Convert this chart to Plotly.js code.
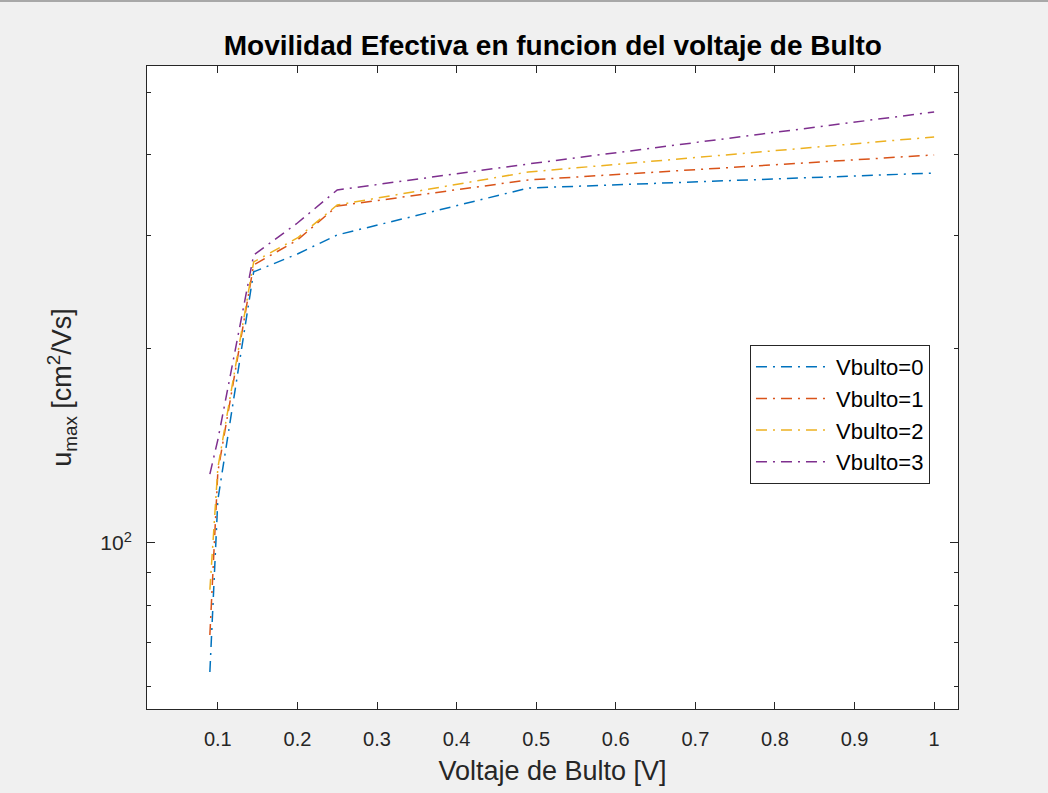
<!DOCTYPE html>
<html>
<head>
<meta charset="utf-8">
<script src="https://cdn.plot.ly/plotly-3.0.1.min.js"></script>
<style>
html,body{margin:0;padding:0;background:#f0f0f0;}
#chart{width:1048px;height:793px;}
</style>
</head>
<body>
<div id="chart"></div>
<script>
// Data
const vds = [0.09, 0.1, 0.145, 0.2, 0.25, 0.49, 1.0];
const seriesNames = ["Vbulto=0", "Vbulto=1", "Vbulto=2", "Vbulto=3"];
const umax0 = [63.1, 116.6, 263.2, 280.6, 300.3, 355.0, 374.6];
const umax1 = [72.0, 128.9, 269.8, 294.9, 333.0, 365.4, 399.6];
const umax2 = [84.6, 130.7, 272.7, 297.1, 334.2, 376.0, 426.1];
const umax3 = [127.9, 144.5, 279.6, 313.4, 352.6, 386.9, 465.9];
const seriesValues = [umax0, umax1, umax2, umax3];
const colors = ["#0072BD", "#D95319", "#EDB120", "#7E2F8E"];
const xTicks = [0.1, 0.2, 0.3, 0.4, 0.5, 0.6, 0.7, 0.8, 0.9, 1];
const xTickText = ["0.1", "0.2", "0.3", "0.4", "0.5", "0.6", "0.7", "0.8", "0.9", "1"];
const yMajor = [100];
const yMajorText = ["10<sup>2</sup>"];
const yMinor = [60, 70, 80, 90, 200, 300, 400, 500];

const font = "Liberation Sans, Arial, Helvetica, sans-serif";
const axColor = "#262626";

const traces = seriesValues.map((vals, i) => ({
  x: vds,
  y: vals,
  type: "scatter",
  mode: "lines",
  name: seriesNames[i],
  line: {color: colors[i], width: 1.5, dash: "11px,6px,2px,6px"}
}));

const layout = {
  width: 1048,
  height: 793,
  paper_bgcolor: "#f0f0f0",
  plot_bgcolor: "#ffffff",
  margin: {l: 147, r: 90, t: 66, b: 84, pad: 0},
  font: {family: font, color: axColor, size: 20},
  title: {
    text: "<b>Movilidad Efectiva en funcion del voltaje de Bulto</b>",
    font: {family: font, size: 28, color: "#000000"},
    x: 0.5275, xanchor: "center",
    y: 0.943, yanchor: "middle", yref: "container"
  },
  showlegend: true,
  legend: {
    x: 0.7435, y: 0.566, xanchor: "left", yanchor: "top",
    bgcolor: "#ffffff", bordercolor: axColor, borderwidth: 1,
    font: {family: font, size: 22, color: "#000000"},
    tracegroupgap: 0,
    itemwidth: 75
  },
  xaxis: {
    range: [0.011, 1.03],
    tickmode: "array",
    tickvals: xTicks,
    ticktext: xTickText,
    ticks: "inside",
    ticklen: 7,
    tickcolor: axColor,
    tickfont: {family: font, size: 20, color: axColor},
    ticklabelstandoff: 12,
    showline: true,
    linecolor: axColor,
    linewidth: 1,
    mirror: "ticks",
    showgrid: false,
    zeroline: false,
    title: {text: "Voltaje de Bulto [V]", font: {family: font, size: 27, color: axColor}, standoff: 12}
  },
  yaxis: {
    type: "log",
    range: [1.7426, 2.7395],
    tickmode: "array",
    tickvals: yMajor,
    ticktext: yMajorText,
    ticks: "inside",
    ticklen: 8,
    tickcolor: axColor,
    tickfont: {family: font, size: 21, color: axColor},
    ticklabelstandoff: 10,
    minor: {tickmode: "array", tickvals: yMinor, ticks: "inside", ticklen: 4, tickcolor: axColor, showgrid: false},
    showline: true,
    linecolor: axColor,
    linewidth: 1,
    mirror: "ticks",
    showgrid: false,
    zeroline: false,
    title: {text: "u<sub>max</sub> [cm<sup>2</sup>/Vs]", font: {family: font, size: 27, color: axColor}, standoff: 20}
  },
  shapes: [
    {type: "rect", xref: "paper", yref: "paper", x0: -0.2, x1: 1.2, y0: 1.0995, y1: 1.105,
     line: {width: 0}, fillcolor: "#a8a8a8"}
  ]
};

Plotly.newPlot("chart", traces, layout, {displayModeBar: false, staticPlot: true});
</script>
</body>
</html>
